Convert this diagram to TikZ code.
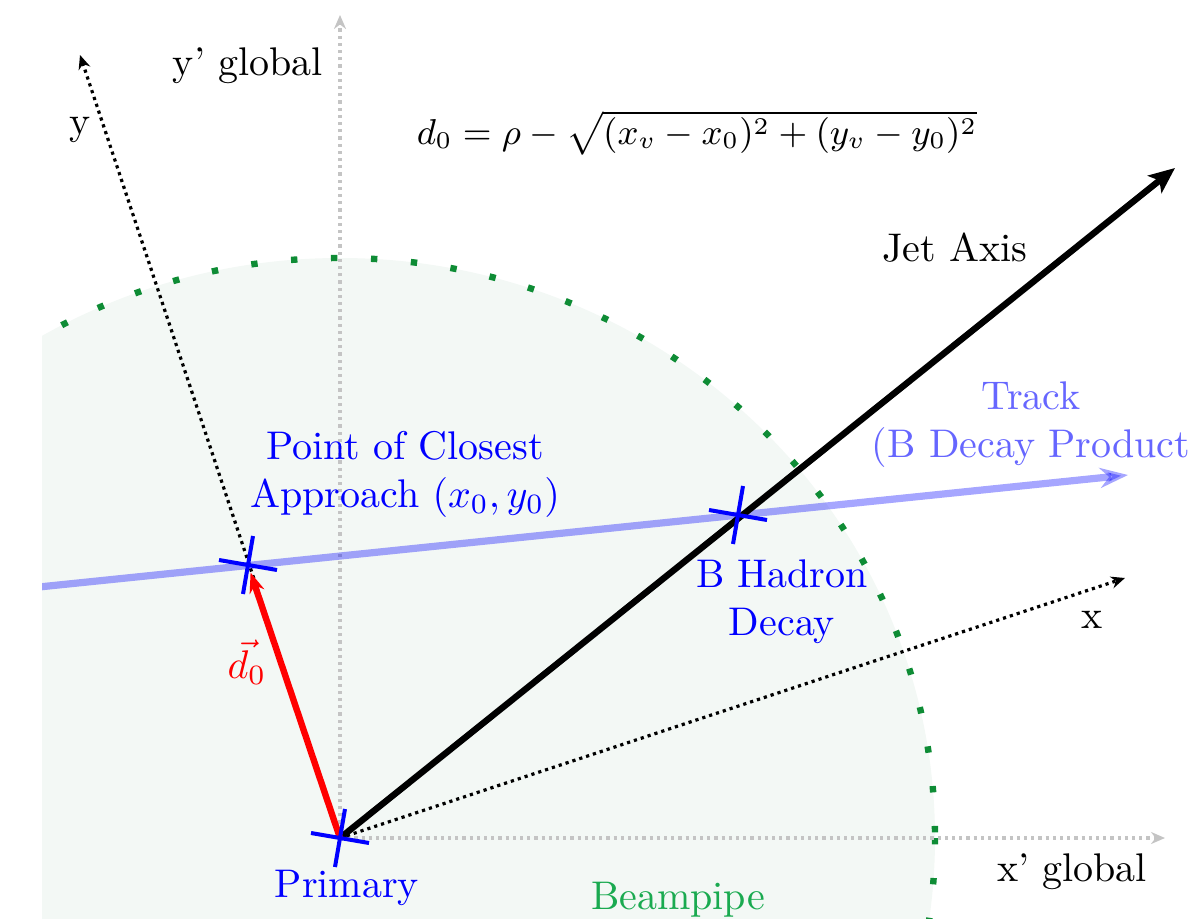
\documentclass[tikz,border=0pt]{standalone}
\usepackage{amsmath}
\usetikzlibrary{arrows.meta,calc}
\definecolor{PipeFill}{HTML}{F3F8F5}
\definecolor{PipeDots}{HTML}{0E8C35}
\definecolor{PipeText}{HTML}{1AAA50}
\definecolor{AxisGray}{HTML}{C4C4C4}

\tikzset{
  vtxcross/.style={draw=blue, line width=1pt},
  localaxis/.style={densely dotted, thick, -{Stealth[length=3.5pt, width=3pt]}},
  globalaxis/.style={densely dotted, thick, color=AxisGray, -{Stealth[length=3.5pt, width=3pt]}},
}

\begin{document}
\begin{tikzpicture}[x=0.25pt, y=-0.25pt]
    \useasboundingbox (0,0) rectangle (1195,918);
    \clip (42,0) rectangle (1195,918);
    % beampipe
    \fill[PipeFill] (340,838) ellipse [x radius=595, y radius=580];
    \draw[PipeDots, line width=1.6pt, dash pattern=on 1.6pt off 8.4pt] (340,838) ellipse [x radius=595, y radius=580];

    \coordinate (prim) at (340,838);
    \coordinate (pca) at (248,565);
    \coordinate (bdec) at (738,515);
    \coordinate (gx) at (1165,838);
    \coordinate (gy) at (340,15);
    \coordinate (lx) at (1125,578);
    \coordinate (ly) at (80,55);
    \coordinate (jet) at (1175,168);
    \coordinate (trk0) at (0,591);
    \coordinate (trk1) at (1128,475);

    % axes
    \draw[globalaxis] (prim) -- (gx);
    \draw[globalaxis] (prim) -- (gy);
    \draw[localaxis] (prim) -- (lx);
    \draw[localaxis] (prim) -- (ly);

    % track, jet, impact parameter
    \draw[draw=blue, opacity=0.35, line width=1.8pt, -{Stealth[length=7pt, width=5pt]}] (trk0) -- (trk1);
    \draw[line width=1.6pt, -{Stealth[length=6.5pt, width=5.5pt, inset=1.5pt]}] (prim) -- (jet);
    \draw[red, line width=1.6pt, shorten >=2pt, -{Stealth[length=5pt, width=3.8pt]}] (prim) -- (pca);

    \foreach \v in {prim, pca, bdec} {
      \draw[vtxcross] ($(\v)+(-29,-5)$) -- ($(\v)+(29,5)$);
      \draw[vtxcross] ($(\v)+(5,-29)$) -- ($(\v)+(-5,29)$);
    }

    % labels
    \node (lgy) at (248,66) {y' global};
    \node (ly-lab) at (80,130) {y};
    \node[font=\small] (form) at (697,133) {$d_0 = \rho - \sqrt{(x_v - x_0)^2 + (y_v - y_0)^2}$};
    \node (jet-lab) at (955,248) {Jet Axis};
    \node[blue!60, align=center] (trk-lab) at (1031,425) {Track\\(B Decay Product};
    \node[blue, align=center] (pca-lab) at (405,474) {Point of Closest\\Approach $(x_0,y_0)$};
    \node[blue, align=center] (bdec-lab) at (782,602) {B Hadron\\Decay};
    \node[red] (d0-lab) at (247,662) {$\vec{d_0}$};
    \node (lx-lab) at (1092,620) {x};
    \node (lgx) at (1072,872) {x' global};
    \node[blue] (prim-lab) at (347,888) {Primary};
    \node[PipeText] (pipe-lab) at (678,900) {Beampipe};
  \end{tikzpicture}
\end{document}
